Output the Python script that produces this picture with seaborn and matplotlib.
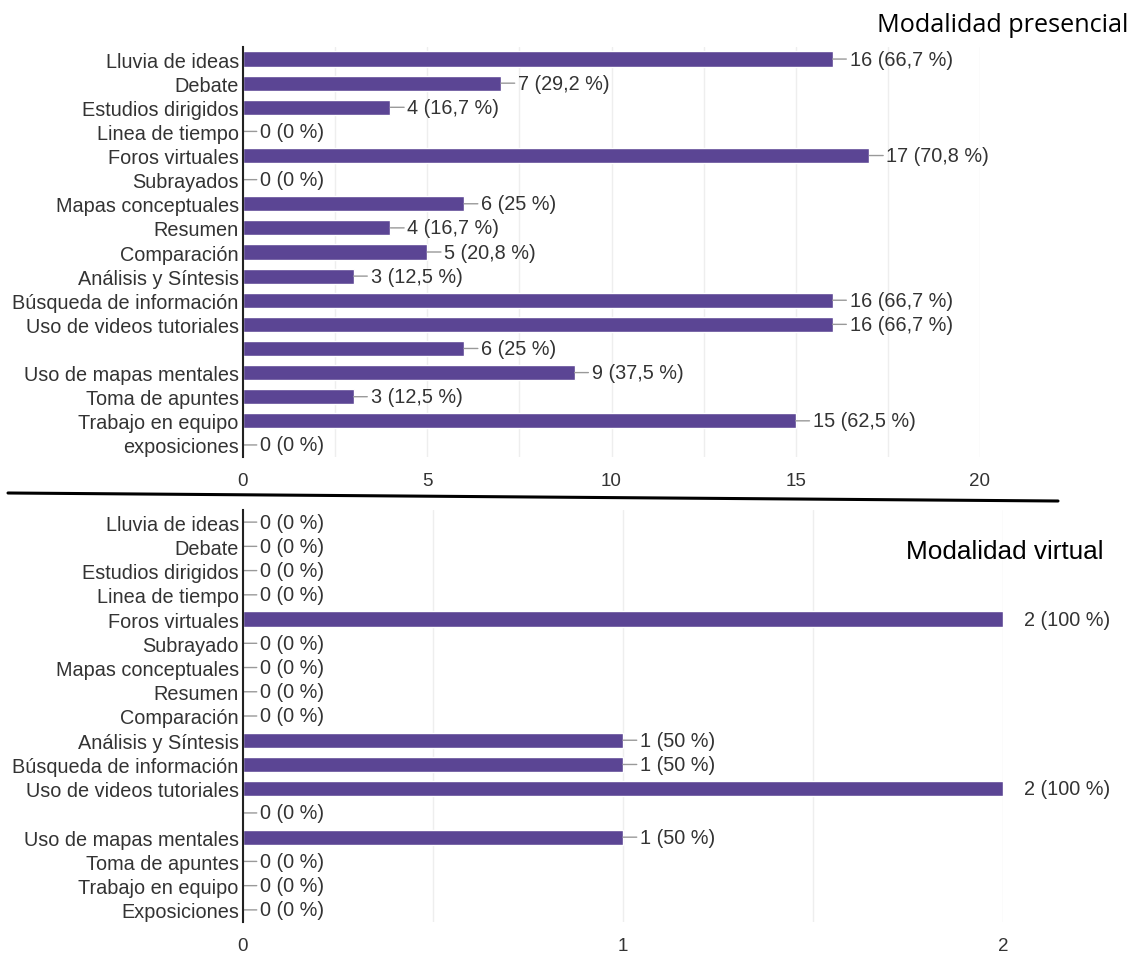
import seaborn as sns
import pandas as pd
import matplotlib.pyplot as plt
from matplotlib.lines import Line2D

# Categories for each panel (the 13th row has no label in the original)
cats_pres = ['Lluvia de ideas', 'Debate', 'Estudios dirigidos', 'Linea de tiempo', 'Foros virtuales',
             'Subrayados', 'Mapas conceptuales', 'Resumen', 'Comparación', 'Análisis y Síntesis',
             'Búsqueda de información', 'Uso de videos tutoriales', '', 'Uso de mapas mentales',
             'Toma de apuntes', 'Trabajo en equipo', 'exposiciones']
vals_pres = [16, 7, 4, 0, 17, 0, 6, 4, 5, 3, 16, 16, 6, 9, 3, 15, 0]
pct_pres = ['66,7', '29,2', '16,7', '0', '70,8', '0', '25', '16,7', '20,8', '12,5',
            '66,7', '66,7', '25', '37,5', '12,5', '62,5', '0']

cats_virt = ['Lluvia de ideas', 'Debate', 'Estudios dirigidos', 'Linea de tiempo', 'Foros virtuales',
             'Subrayado', 'Mapas conceptuales', 'Resumen', 'Comparación', 'Análisis y Síntesis',
             'Búsqueda de información', 'Uso de videos tutoriales', '', 'Uso de mapas mentales',
             'Toma de apuntes', 'Trabajo en equipo', 'Exposiciones']
vals_virt = [0, 0, 0, 0, 2, 0, 0, 0, 0, 1, 1, 2, 0, 1, 0, 0, 0]
pct_virt = ['0', '0', '0', '0', '100', '0', '0', '0', '0', '50', '50', '100', '0', '50', '0', '0', '0']

BAR = '#5b4594'
TXT = '#333333'
FS = 14.3

sns.set_style('white')
plt.rcParams['font.family'] = ['Liberation Sans', 'DejaVu Sans']

fig = plt.figure(figsize=(11.33, 9.54), dpi=100)
ax1 = fig.add_axes([243/1133, 1-458/954, 737/1133, 410/954])
ax2 = fig.add_axes([243/1133, 1-923/954, 760/1133, 412/954])


def draw(ax, cats, vals, pcts, xmax, major, minor):
    df = pd.DataFrame({'cat': cats, 'val': vals})
    sns.barplot(data=df, x='val', y='cat', orient='h', color=BAR, saturation=1,
                width=0.63, ax=ax, zorder=3)
    ax.set_xlim(0, xmax)
    ax.set_ylim(len(cats) - 0.5, -0.5)
    ax.set_xticks([i * major for i in range(int(xmax / major) + 1)])
    ax.set_xticks([i * minor for i in range(int(xmax / minor) + 1)], minor=True)
    ax.grid(axis='x', which='both', color='#eeeeee', lw=1, zorder=0)
    ax.set_axisbelow(True)
    for s in ['top', 'right', 'bottom']:
        ax.spines[s].set_visible(False)
    ax.spines['left'].set_color('#222222')
    ax.spines['left'].set_linewidth(1.5)
    ax.spines['left'].set_zorder(5)
    ax.tick_params(axis='y', length=0, pad=3, labelsize=FS, labelcolor=TXT)
    ax.tick_params(axis='x', which='both', length=0, pad=11, labelsize=13.5, labelcolor=TXT)
    ax.set_xlabel('')
    ax.set_ylabel('')
    for i, (v, p) in enumerate(zip(vals, pcts)):
        label = f'{v} ({p} %)'
        if v >= xmax:
            ax.annotate(label, xy=(v, i), xytext=(21, 0), textcoords='offset pixels',
                        ha='left', va='center', fontsize=FS, color=TXT, annotation_clip=False)
        else:
            ax.annotate(label, xy=(v, i), xytext=(17, 0), textcoords='offset pixels',
                        ha='left', va='center', fontsize=FS, color=TXT,
                        arrowprops=dict(arrowstyle='-', color='#999999', lw=1,
                                        shrinkA=0, shrinkB=0, relpos=(0, 0.5)))


draw(ax1, cats_pres, vals_pres, pct_pres, 20, 5, 2.5)
draw(ax2, cats_virt, vals_virt, pct_virt, 2, 1, 0.5)

# Panel titles and divider
fig.text(1128/1133, 1-25/954, 'Modalidad presencial', ha='right', va='center',
         fontsize=18.2, family=['Open Sans', 'DejaVu Sans'], color='black')
fig.text(1103/1133, 1-552/954, 'Modalidad virtual', ha='right', va='center',
         fontsize=18.8, family=['Liberation Sans', 'DejaVu Sans'], color='black')
fig.add_artist(Line2D([8/1133, 1058/1133], [1-494/954, 1-502/954],
                      transform=fig.transFigure, color='black', lw=2.2))

plt.savefig('out.png', dpi=100)
